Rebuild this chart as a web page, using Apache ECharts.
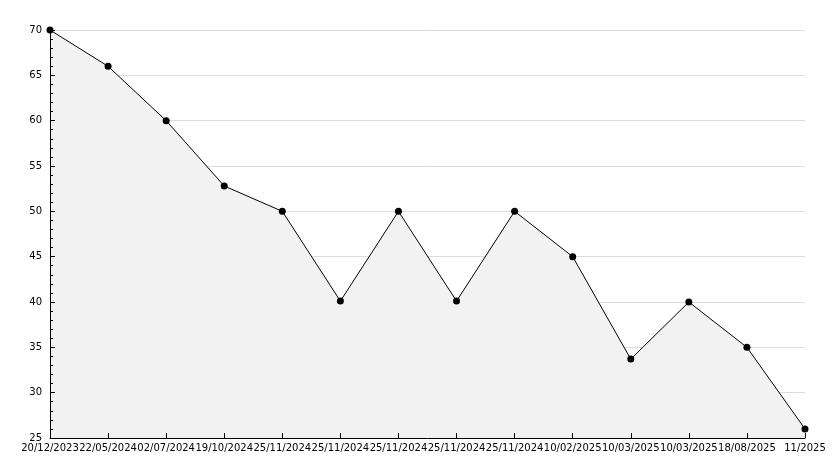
<!DOCTYPE html>
<html><head><meta charset="utf-8">
<script src="https://cdn.jsdelivr.net/npm/echarts@6/dist/echarts.min.js"></script>
<style>html,body{margin:0;padding:0;background:#fff}#c{width:834px;height:468px}</style>
</head><body><div id="c"></div>
<script>
const categories = ['20/12/2023','22/05/2024','02/07/2024','19/10/2024','25/11/2024','25/11/2024','25/11/2024','25/11/2024','25/11/2024','10/02/2025','10/03/2025','10/03/2025','18/08/2025','11/2025'];
const values = [70, 66, 60, 52.8, 50, 40.1, 50, 40.1, 50, 45, 33.7, 40, 35, 26];
const yMin = 25, yMax = 70, yStep = 5;

const font = {color: '#000', fontFamily: 'DejaVu Sans', fontSize: 10};
const chart = echarts.init(document.getElementById('c'), null, {renderer:'canvas'});
chart.setOption({
  animation: false,
  backgroundColor: '#fff',
  grid: {left: 50, right: 29, top: 30, bottom: 30, containLabel: false},
  xAxis: [{
    type: 'category', data: categories, boundaryGap: false, z: 0,
    axisLine: {show: false}, axisTick: {show: false}, axisLabel: {show: false},
    splitLine: {show: false}
  }, {
    type: 'category', data: categories, boundaryGap: false, position: 'bottom', z: 10,
    axisLine: {onZero: false, lineStyle: {color: '#000', width: 1}},
    axisTick: {inside: true, length: 5, lineStyle: {color: '#000'}},
    axisLabel: Object.assign({margin: 5, interval: 0, hideOverlap: false}, font),
    splitLine: {show: false}
  }],
  yAxis: [{
    type: 'value', min: yMin, max: yMax, interval: yStep, z: 0,
    axisLine: {show: false}, axisTick: {show: false}, axisLabel: {show: false},
    splitLine: {show: true, lineStyle: {color: '#dddddd', width: 1}}
  }, {
    type: 'value', min: yMin, max: yMax, interval: yStep, position: 'left', z: 10,
    axisLine: {show: true, onZero: false, lineStyle: {color: '#000', width: 1}},
    axisTick: {show: true, inside: true, length: 5, lineStyle: {color: '#000'}},
    minorTick: {show: true, splitNumber: 5, length: 3, lineStyle: {color: '#000'}},
    axisLabel: Object.assign({margin: 8}, font),
    splitLine: {show: false}
  }],
  series: [{
    type: 'line', data: values, xAxisIndex: 0, yAxisIndex: 0, z: 2,
    symbol: 'circle', symbolSize: 7,
    itemStyle: {color: '#000'},
    lineStyle: {color: '#000', width: 1},
    areaStyle: {color: '#f2f2f2', opacity: 1, origin: 'start'}
  }]
});
</script></body></html>
